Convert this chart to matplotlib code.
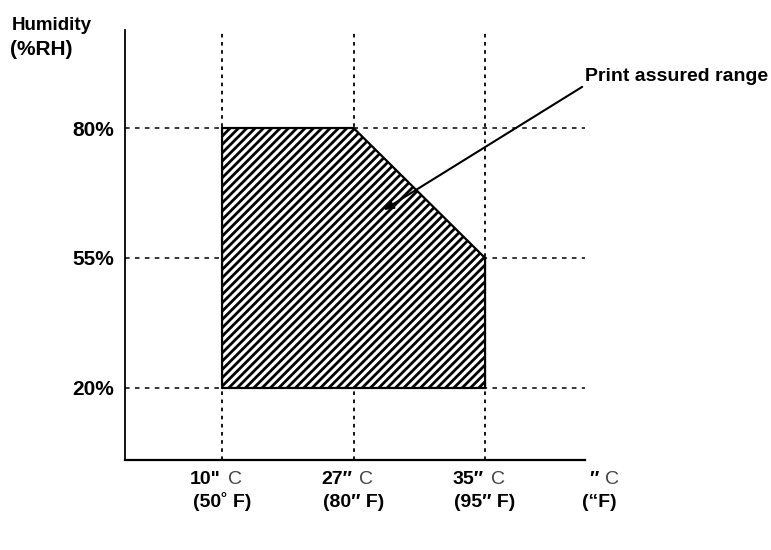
import matplotlib
matplotlib.use('Agg')
import matplotlib.pyplot as plt
from matplotlib.patches import Polygon
from matplotlib import transforms

# chart values
temps_c = [10, 27, 35]
temp_c_labels = ['10"', '27″', '35″', '″']
temp_f_labels = ['(50˚ F)', '(80″ F)', '(95″ F)', '(“F)']
humidity = [20, 55, 80]
humidity_labels = ['20%', '55%', '80%']
# boundary of the print assured range (temp C, humidity %RH)
range_temp = [10, 10, 27, 35, 35]
range_hum = [20, 80, 80, 55, 20]

narrow = ['Liberation Sans Narrow', 'Liberation Sans', 'DejaVu Sans']
wide = ['Liberation Sans', 'DejaVu Sans']

plt.rcParams['hatch.linewidth'] = 2.0

fig = plt.figure(figsize=(7.71, 5.5), dpi=100)
ax = fig.add_axes([125/771, 90/550, 460/771, 430/550])

# ordinal positions on both axes
xpos = {t: i + 1 for i, t in enumerate(temps_c)}
ypos = {h: i + 1 for i, h in enumerate(humidity)}

ax.set_xlim(0.262, 3.76)
ax.set_ylim(0.446, 3.754)

for i in range(len(temps_c)):
    ax.axvline(i + 1, color='black', lw=1.3, ls=(0, (2, 2.5)), zorder=1)
for i in range(len(humidity)):
    ax.axhline(i + 1, color='black', lw=1.1, ls=(0, (3, 3.5)), zorder=1)

verts = [(xpos[t], ypos[h]) for t, h in zip(range_temp, range_hum)]
poly = Polygon(verts, closed=True, facecolor='white', edgecolor='black',
               lw=1.6, hatch='////', zorder=2)
ax.add_patch(poly)

ax.annotate('Print assured range', xy=(2.23, 2.37), xytext=(3.76, 3.33),
            fontsize=14, fontweight='bold', family=narrow,
            ha='left', va='bottom',
            arrowprops=dict(arrowstyle='-|>', color='black', lw=1.5,
                            mutation_scale=14, shrinkA=0, shrinkB=0,
                            relpos=(0, 0)),
            annotation_clip=False, zorder=4)

for s in ['top', 'right']:
    ax.spines[s].set_visible(False)
ax.spines['left'].set_linewidth(1.3)
ax.spines['bottom'].set_linewidth(1.6)

ax.set_yticks(range(1, len(humidity) + 1))
ax.set_yticklabels(humidity_labels, fontsize=15, fontweight='bold', family=wide)
ax.tick_params(axis='y', length=0, pad=8)
ax.set_xticks([])

trans = transforms.blended_transform_factory(ax.transData, ax.transAxes)
for i, (c, f) in enumerate(zip(temp_c_labels, temp_f_labels)):
    x = i + 1 if i < len(temps_c) else 3.87
    off = transforms.offset_copy(trans, fig=fig, x=-1, y=-17, units='points')
    ax.text(x, 0, c, transform=off, ha='right', va='baseline', fontsize=14,
            fontweight='bold', family=narrow, clip_on=False)
    off2 = transforms.offset_copy(trans, fig=fig, x=4, y=-17, units='points')
    ax.text(x, 0, 'C', transform=off2, ha='left', va='baseline', fontsize=14,
            color='#444444', fontweight='light', family=wide, clip_on=False)
    off3 = transforms.offset_copy(trans, fig=fig, x=0, y=-34, units='points')
    ax.text(x, 0, f, transform=off3, ha='center', va='baseline', fontsize=14,
            fontweight='bold', family=narrow, clip_on=False)

fig.text(12/771, 1 - 30/550, 'Humidity', fontsize=13.5, fontweight='bold',
         family=narrow, ha='left', va='baseline')
fig.text(10/771, 1 - 55/550, '(%RH)', fontsize=15, fontweight='bold',
         family=wide, ha='left', va='baseline')

fig.savefig('out.png', dpi=100)
